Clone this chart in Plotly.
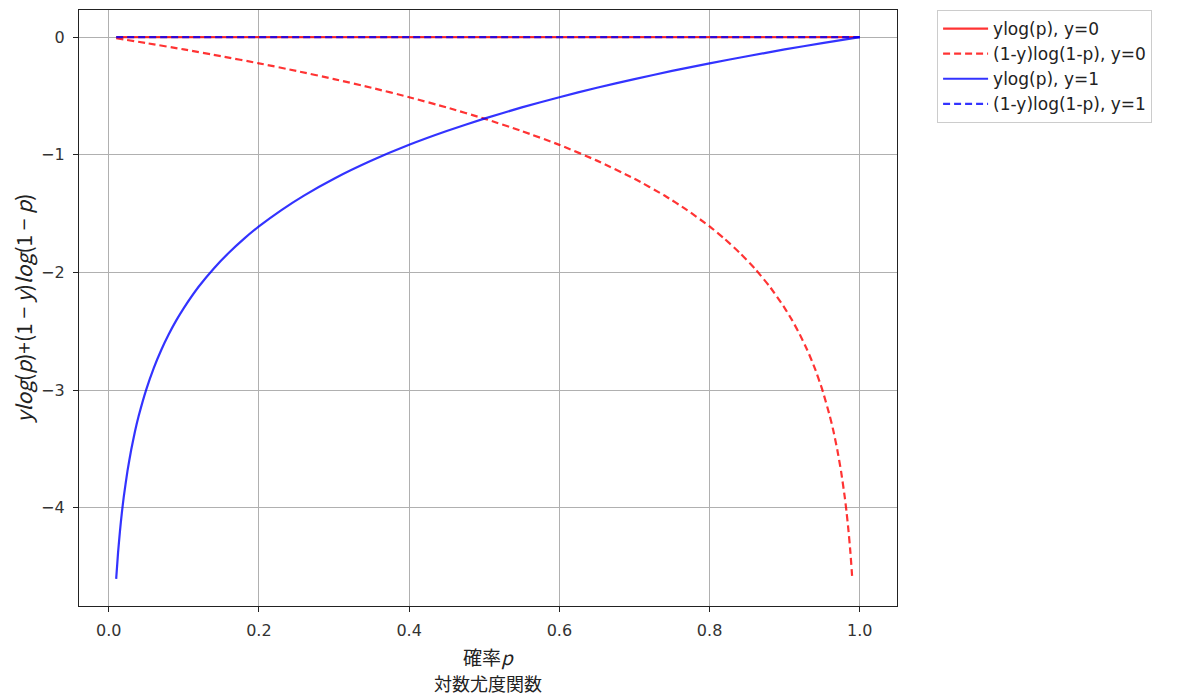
import plotly.graph_objects as go

# probability p values and curve values
p_blue = [0.01, 0.0125, 0.015, 0.0175, 0.02, 0.025, 0.03, 0.035, 0.04, 0.05, 0.06, 0.07, 0.08, 0.09,
          0.10, 0.12, 0.14, 0.16, 0.18, 0.20, 0.23, 0.26, 0.30, 0.35, 0.40, 0.45, 0.50, 0.55,
          0.60, 0.65, 0.70, 0.75, 0.80, 0.85, 0.90, 0.95, 1.00]
ylogp_y1 = [-4.605, -4.382, -4.200, -4.045, -3.912, -3.689, -3.507, -3.352, -3.219, -2.996, -2.813, -2.659,
            -2.526, -2.408, -2.303, -2.120, -1.966, -1.833, -1.715, -1.609, -1.470, -1.347, -1.204, -1.050,
            -0.916, -0.799, -0.693, -0.598, -0.511, -0.431, -0.357, -0.288, -0.223, -0.163, -0.105,
            -0.051, 0.000]

p_red = [0.01, 0.05, 0.10, 0.15, 0.20, 0.25, 0.30, 0.35, 0.40, 0.45, 0.50, 0.55, 0.60, 0.65, 0.70,
         0.74, 0.77, 0.80, 0.82, 0.84, 0.86, 0.88, 0.90, 0.91, 0.92, 0.93, 0.94, 0.95, 0.96,
         0.965, 0.97, 0.975, 0.98, 0.9825, 0.985, 0.9875, 0.99]
log1mp_y0 = [-0.010, -0.051, -0.105, -0.163, -0.223, -0.288, -0.357, -0.431, -0.511, -0.598, -0.693, -0.799,
             -0.916, -1.050, -1.204, -1.347, -1.470, -1.609, -1.715, -1.833, -1.966, -2.120, -2.303, -2.408,
             -2.526, -2.659, -2.813, -2.996, -3.219, -3.352, -3.507, -3.689, -3.912, -4.045, -4.200,
             -4.382, -4.605]

p_zero = [0.01, 1.00]
zero_vals = [0.0, 0.0]

RED = "rgba(255,0,0,0.8)"
BLUE = "rgba(0,0,255,0.8)"
FONT = "Noto Sans CJK JP, Noto Sans, DejaVu Sans, sans-serif"
LATIN = "DejaVu Sans, Noto Sans CJK JP, sans-serif"

fig = go.Figure()
fig.add_trace(go.Scatter(x=p_zero, y=zero_vals, mode="lines", name="ylog(p), y=0",
                         line=dict(color=RED, width=2.2)))
fig.add_trace(go.Scatter(x=p_red, y=log1mp_y0, mode="lines", name="(1-y)log(1-p), y=0",
                         line=dict(color=RED, width=2.2, dash="7px,4px", shape="spline", smoothing=0.5)))
fig.add_trace(go.Scatter(x=p_blue, y=ylogp_y1, mode="lines", name="ylog(p), y=1",
                         line=dict(color=BLUE, width=2.2, shape="spline", smoothing=0.5)))
fig.add_trace(go.Scatter(x=p_zero, y=zero_vals, mode="lines", name="(1-y)log(1-p), y=1",
                         line=dict(color=BLUE, width=2.2, dash="7px,4px")))

axis_common = dict(showgrid=True, gridcolor="#b0b0b0", gridwidth=0.8, zeroline=False,
                   showline=True, linecolor="#222", linewidth=1.2, mirror=True,
                   ticks="outside", ticklen=5, tickcolor="#222", automargin=False,
                   tickfont=dict(size=16, color="#333", family=LATIN))

fig.update_layout(
    width=1200, height=697,
    margin=dict(l=71, r=311, t=2, b=99),
    paper_bgcolor="white", plot_bgcolor="white",
    font=dict(family=FONT, color="#222"),
    xaxis=dict(range=[-0.0395, 1.0495], tickvals=[0, 0.2, 0.4, 0.6, 0.8, 1.0],
               ticktext=["0.0", "0.2", "0.4", "0.6", "0.8", "1.0"], ticklabelstandoff=5,
               title=dict(text="確率<i>p</i>", font=dict(size=19, family=FONT), standoff=12),
               **axis_common),
    yaxis=dict(range=[-4.835, 0.23], tickvals=[0, -1, -2, -3, -4],
               ticktext=["0", "−1", "−2", "−3", "−4"], ticklabelstandoff=5,
               title=dict(text="<i>ylog</i>(<i>p</i>)+(1 − <i>y</i>)<i>log</i>(1 − <i>p</i>)",
                          font=dict(size=21, family=FONT), standoff=26),
               **axis_common),
    legend=dict(x=1.049, y=1.0, xanchor="left", yanchor="top",
                bordercolor="#cccccc", borderwidth=1, bgcolor="white", itemwidth=45,
                font=dict(size=17, family=LATIN, color="#222"), tracegroupgap=0),
    showlegend=True,
    annotations=[dict(text="対数尤度関数", xref="paper", yref="paper", x=0.5, y=-0.104,
                      xanchor="center", yanchor="top", showarrow=False,
                      font=dict(size=18, family=FONT, color="#222"))],
)

fig.write_html("out.html")
